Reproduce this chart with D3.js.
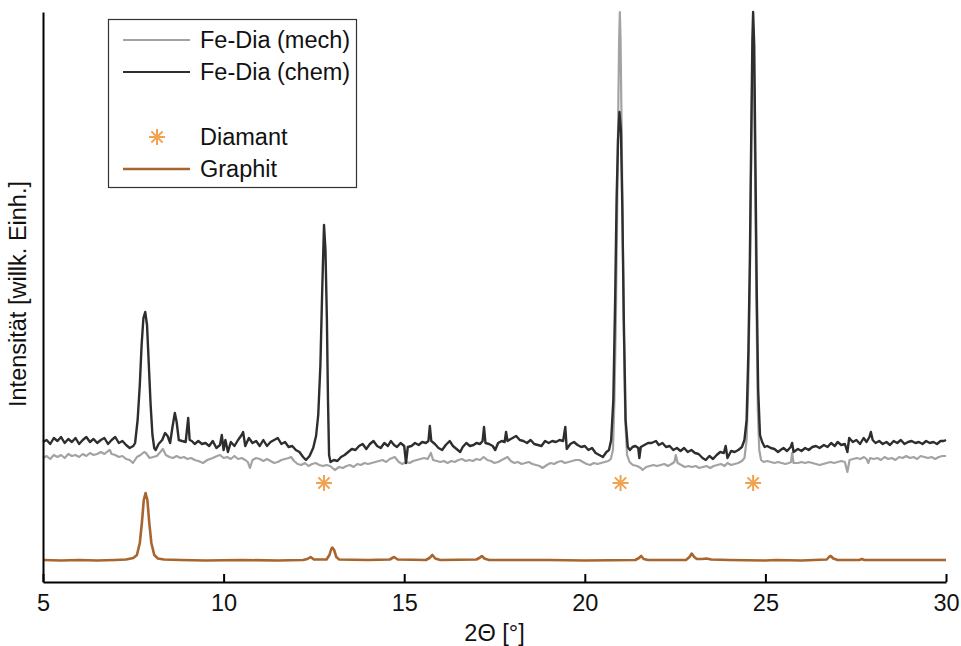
<!DOCTYPE html>
<html>
<head>
<meta charset="utf-8">
<script src="https://cdn.jsdelivr.net/npm/d3@7"></script>
<style>
  html, body { margin: 0; padding: 0; background: #fff; }
  svg { display: block; font-family: "Liberation Sans", Arial, sans-serif; }
</style>
</head>
<body>
<svg id="chart" width="961" height="646"></svg>
<script>
// XRD patterns: 2-theta (deg) vs. intensity (arb. units)
const mechData = [
  [5.0,124],[5.1,126],[5.2,123],[5.3,127],[5.4,125],[5.5,127],[5.6,124],[5.7,128],[5.8,126],[5.9,127],
  [6.0,125],[6.1,128],[6.2,126],[6.3,129],[6.4,127],[6.5,128],[6.6,130],[6.7,128],[6.8,131],[6.85,132],
  [6.9,128],[7.0,127],[7.1,125],[7.2,126],[7.3,123],[7.4,122],[7.49,119],[7.6,125],[7.7,127],[7.8,130],
  [7.85,129],[7.95,124],[8.05,125],[8.15,126],[8.25,130],[8.32,133],[8.4,127],[8.5,125],[8.6,124],[8.7,126],
  [8.8,124],[8.9,125],[9.0,123],[9.1,124],[9.2,122],[9.3,121],[9.43,119],[9.55,122],[9.7,124],[9.82,126],
  [9.9,127],[10.0,124],[10.1,125],[10.2,123],[10.3,126],[10.4,123],[10.5,124],[10.6,122],[10.67,120],[10.73,114],
  [10.8,122],[10.9,124],[11.0,123],[11.1,121],[11.2,123],[11.3,121],[11.4,119],[11.5,120],[11.6,122],[11.7,123],
  [11.8,124],[11.87,125],[11.95,121],[12.05,118],[12.15,117],[12.25,119],[12.35,116],[12.45,118],[12.55,119],[12.65,117],
  [12.75,116],[12.85,117],[12.95,116],[13.08,112],[13.2,115],[13.3,114],[13.4,116],[13.5,117],[13.6,115],[13.7,118],
  [13.8,117],[13.9,119],[14.0,118],[14.1,119],[14.2,120],[14.3,121],[14.4,122],[14.5,120],[14.6,123],[14.74,125],
  [14.85,120],[14.95,118],[15.05,120],[15.15,119],[15.25,121],[15.35,122],[15.45,123],[15.55,124],[15.65,123],[15.74,129],
  [15.8,122],[15.9,121],[16.0,120],[16.1,121],[16.2,119],[16.3,121],[16.4,120],[16.5,122],[16.6,123],[16.7,121],
  [16.8,122],[16.9,121],[17.0,123],[17.1,122],[17.2,125],[17.3,122],[17.4,121],[17.5,119],[17.6,120],[17.7,122],
  [17.86,125],[17.95,121],[18.05,119],[18.15,120],[18.25,118],[18.35,119],[18.45,120],[18.55,118],[18.65,117],[18.75,116],
  [18.83,114],[18.95,117],[19.05,119],[19.15,118],[19.25,120],[19.35,121],[19.45,119],[19.55,120],[19.65,121],[19.75,122],
  [19.85,122],[19.95,120],[20.05,118],[20.15,117],[20.25,119],[20.35,118],[20.45,119],[20.55,120],[20.65,121],[20.72,123],
  [20.78,132],[20.82,182],[20.86,262],[20.89,352],[20.92,452],[20.95,542],[20.97,570],[20.99,542],[21.02,452],[21.05,352],
  [21.08,252],[21.12,162],[21.17,127],[21.24,120],[21.33,117],[21.45,116],[21.55,114],[21.6,112],[21.7,115],[21.8,116],
  [21.9,117],[22.0,116],[22.1,117],[22.2,118],[22.3,116],[22.4,118],[22.48,120],[22.52,127],[22.57,119],[22.67,117],
  [22.77,115],[22.87,116],[22.97,115],[23.07,116],[23.17,114],[23.27,115],[23.37,116],[23.47,114],[23.57,116],[23.67,117],
  [23.77,118],[23.87,116],[23.95,119],[24.05,117],[24.15,118],[24.25,119],[24.35,121],[24.42,124],[24.48,142],[24.53,202],
  [24.57,302],[24.61,432],[24.64,522],[24.66,552],[24.68,522],[24.71,422],[24.75,282],[24.79,172],[24.83,132],[24.88,122],
  [24.95,120],[25.05,121],[25.15,120],[25.25,119],[25.35,120],[25.45,119],[25.55,118],[25.65,119],[25.71,120],[25.74,129],
  [25.78,119],[25.9,119],[26.0,120],[26.1,119],[26.2,120],[26.3,119],[26.4,118],[26.5,117],[26.6,118],[26.7,119],
  [26.8,120],[26.9,119],[27.0,120],[27.1,121],[27.2,120],[27.27,110],[27.33,122],[27.43,123],[27.53,124],[27.63,123],
  [27.73,125],[27.8,123],[27.85,119],[27.9,124],[28.0,123],[28.1,124],[28.2,122],[28.3,125],[28.4,123],[28.5,124],
  [28.6,122],[28.7,125],[28.8,124],[28.9,126],[29.0,124],[29.1,125],[29.2,123],[29.3,126],[29.4,125],[29.5,124],
  [29.6,125],[29.7,123],[29.8,125],[29.9,126],[30.0,126]
];

const chemData = [
  [5.0,140],[5.1,142],[5.2,138],[5.3,144],[5.4,141],[5.5,145],[5.6,139],[5.7,143],[5.8,140],[5.9,144],
  [6.0,138],[6.1,142],[6.2,145],[6.3,140],[6.4,143],[6.5,139],[6.6,142],[6.7,144],[6.8,138],[6.9,142],
  [7.0,145],[7.1,139],[7.2,141],[7.3,137],[7.4,134],[7.5,136],[7.55,139],[7.62,162],[7.68,197],[7.73,237],
  [7.78,264],[7.83,270],[7.88,257],[7.93,217],[7.98,177],[8.03,147],[8.08,134],[8.12,132],[8.2,138],[8.3,142],
  [8.38,149],[8.45,146],[8.52,139],[8.58,154],[8.65,169],[8.7,160],[8.76,142],[8.85,141],[8.95,140],[9.02,164],
  [9.06,142],[9.12,141],[9.2,138],[9.3,141],[9.4,138],[9.5,139],[9.6,136],[9.7,141],[9.8,134],[9.9,137],
  [9.95,147],[10.0,132],[10.05,142],[10.12,130],[10.2,140],[10.3,136],[10.4,142],[10.5,147],[10.54,150],[10.6,136],
  [10.7,144],[10.8,139],[10.9,141],[11.0,136],[11.1,142],[11.2,136],[11.3,140],[11.4,142],[11.5,144],[11.6,138],
  [11.7,140],[11.8,135],[11.9,136],[12.0,132],[12.1,130],[12.2,125],[12.28,122],[12.38,126],[12.48,134],[12.56,146],
  [12.62,167],[12.68,217],[12.73,292],[12.78,357],[12.82,332],[12.86,262],[12.89,182],[12.92,127],[12.96,120],[13.05,122],
  [13.15,121],[13.25,125],[13.35,127],[13.45,130],[13.55,133],[13.65,132],[13.75,136],[13.85,138],[13.95,133],[14.05,138],
  [14.15,141],[14.25,136],[14.35,134],[14.45,139],[14.55,136],[14.63,141],[14.72,137],[14.8,135],[14.9,139],[15.0,136],
  [15.05,119],[15.1,135],[15.2,136],[15.3,139],[15.4,137],[15.5,140],[15.6,139],[15.67,141],[15.71,156],[15.75,141],
  [15.85,138],[15.95,134],[16.05,132],[16.15,137],[16.26,141],[16.35,136],[16.45,133],[16.55,130],[16.62,135],[16.72,139],
  [16.82,136],[16.92,137],[17.0,139],[17.1,138],[17.17,141],[17.21,155],[17.25,139],[17.35,138],[17.45,136],[17.52,132],
  [17.6,139],[17.7,141],[17.78,140],[17.82,150],[17.86,141],[17.95,143],[18.05,145],[18.1,146],[18.2,142],[18.3,141],
  [18.4,139],[18.5,142],[18.6,138],[18.7,137],[18.8,136],[18.9,141],[19.0,139],[19.1,141],[19.2,140],[19.3,142],
  [19.4,141],[19.46,155],[19.5,133],[19.6,138],[19.7,140],[19.8,137],[19.9,135],[20.0,136],[20.1,132],[20.2,134],
  [20.3,129],[20.4,127],[20.5,125],[20.6,130],[20.67,132],[20.73,142],[20.79,182],[20.84,282],[20.88,382],[20.92,442],
  [20.96,470],[21.0,452],[21.04,372],[21.08,262],[21.13,162],[21.19,135],[21.25,132],[21.32,135],[21.4,136],[21.48,134],
  [21.51,124],[21.55,135],[21.65,137],[21.75,139],[21.85,139],[21.97,141],[22.05,137],[22.15,139],[22.25,135],[22.35,136],
  [22.45,132],[22.55,134],[22.65,131],[22.75,134],[22.85,130],[22.95,132],[23.05,129],[23.15,128],[23.26,124],[23.35,122],
  [23.45,126],[23.55,123],[23.65,127],[23.75,130],[23.85,129],[23.9,136],[23.95,124],[24.05,131],[24.15,130],[24.25,132],
  [24.35,135],[24.42,142],[24.48,162],[24.53,232],[24.57,322],[24.61,452],[24.64,542],[24.66,570],[24.69,537],[24.72,432],
  [24.76,292],[24.8,192],[24.85,147],[24.91,140],[24.98,135],[25.05,136],[25.15,134],[25.25,133],[25.35,130],[25.42,132],
  [25.5,134],[25.6,131],[25.7,135],[25.74,139],[25.78,130],[25.9,133],[26.0,131],[26.1,134],[26.2,132],[26.3,135],
  [26.4,136],[26.5,134],[26.62,137],[26.72,135],[26.82,139],[26.92,136],[27.0,140],[27.1,137],[27.2,138],[27.27,130],
  [27.32,144],[27.42,140],[27.52,142],[27.62,138],[27.72,144],[27.8,140],[27.88,145],[27.92,150],[27.97,142],[28.05,139],
  [28.15,141],[28.25,138],[28.35,140],[28.45,137],[28.55,141],[28.65,139],[28.75,142],[28.85,138],[28.95,140],[29.05,141],
  [29.15,139],[29.25,140],[29.35,138],[29.45,141],[29.55,139],[29.65,140],[29.75,138],[29.85,141],[29.94,141],[30.0,142]
];

const graphitData = [
  [5.0,22],[5.5,21.5],[6.0,22],[6.5,21.5],[7.0,22],[7.3,22.5],[7.5,24],[7.6,27],[7.68,39],[7.74,60],
  [7.79,82],[7.84,89],[7.89,82],[7.94,60],[8.0,39],[8.08,27],[8.18,23.5],[8.35,22.5],[8.8,22],[9.5,21.5],
  [10.5,22],[11.5,21.5],[12.2,22],[12.32,23],[12.41,25],[12.5,22.5],[12.85,22.5],[12.93,27],[12.98,33],[13.01,34.5],
  [13.06,32],[13.12,25],[13.2,22.5],[14.0,22],[14.6,22.5],[14.72,25],[14.82,22.5],[15.6,22],[15.7,24],[15.78,27],
  [15.86,23.5],[16.0,22],[17.0,22.5],[17.1,24.5],[17.15,26],[17.22,23.5],[17.35,22],[19.0,22],[20.0,21.5],[21.4,22],
  [21.5,24],[21.56,26],[21.63,23],[21.75,22],[22.8,22],[22.9,25],[22.96,28.5],[23.03,25],[23.1,23],[23.25,23],
  [23.37,23.5],[23.5,22.5],[24.0,22],[25.0,21.5],[25.3,22],[26.0,21.5],[26.7,22.5],[26.76,25],[26.81,26],[26.88,23.5],
  [27.0,22],[27.6,22],[27.67,23],[27.74,22],[30.0,22]
];

// Diamond reflections marked below the patterns
const diamondPeaks = [12.78, 20.99, 24.66];
const diamondMarkLevel = 99;

const xTicks = [5, 10, 15, 20, 25, 30];
const xDomain = [5, 30];
const yDomain = [0, 570];

const legendItems = [
  { label: "Fe-Dia (mech)", kind: "line", color: "#a3a3a3" },
  { label: "Fe-Dia (chem)", kind: "line", color: "#2e2e2e" },
  { label: "", kind: "none" },
  { label: "Diamant", kind: "star", color: "#f2a24e" },
  { label: "Graphit", kind: "line", color: "#a8652d" }
];

const FONT = 23.5;
const svg = d3.select("#chart");
const M = { left: 43, right: 946, top: 12, bottom: 582 };

const x = d3.scaleLinear().domain(xDomain).range([M.left, M.right]);
const y = d3.scaleLinear().domain(yDomain).range([M.bottom, M.top]);

const line = d3.line().x(d => x(d[0])).y(d => y(d[1]));

// eight-armed asterisk marker
const starSymbol = {
  draw(ctx, size) {
    const r = Math.sqrt(size) / 2;
    for (let k = 0; k < 4; k++) {
      const a = k * Math.PI / 4;
      ctx.moveTo(-r * Math.cos(a), -r * Math.sin(a));
      ctx.lineTo(r * Math.cos(a), r * Math.sin(a));
    }
  }
};
const star = d3.symbol().type(starSymbol).size(256);

// curves
svg.append("path").datum(mechData).attr("d", line)
  .attr("fill", "none").attr("stroke", legendItems[0].color).attr("stroke-width", 2.2).attr("stroke-linejoin", "round");
svg.append("path").datum(chemData).attr("d", line)
  .attr("fill", "none").attr("stroke", legendItems[1].color).attr("stroke-width", 2.4).attr("stroke-linejoin", "round");
svg.append("path").datum(graphitData).attr("d", line)
  .attr("fill", "none").attr("stroke", legendItems[4].color).attr("stroke-width", 2.6).attr("stroke-linejoin", "round");

svg.selectAll("path.dia").data(diamondPeaks).join("path").attr("class", "dia")
  .attr("d", star)
  .attr("transform", d => `translate(${x(d)},${y(diamondMarkLevel)})`)
  .attr("fill", "none").attr("stroke", legendItems[3].color).attr("stroke-width", 2);

// bottom axis with inward ticks
const xAxis = d3.axisBottom(x).tickValues(xTicks).tickSizeInner(-8).tickSizeOuter(0).tickPadding(12)
  .tickFormat(d3.format("d"));
const gx = svg.append("g").attr("transform", `translate(0,${M.bottom})`).call(xAxis);
gx.select(".domain").attr("stroke", "#000").attr("stroke-width", 2);
gx.selectAll(".tick line").attr("stroke", "#000").attr("stroke-width", 2);
gx.selectAll(".tick text").attr("font-size", FONT).attr("fill", "#111")
  .attr("font-family", "'Liberation Sans', Arial, sans-serif");

// left axis line (no ticks)
const yAxis = d3.axisLeft(y).tickValues([]).tickSizeOuter(0);
const gy = svg.append("g").attr("transform", `translate(${M.left},0)`).call(yAxis);
gy.select(".domain").attr("stroke", "#000").attr("stroke-width", 2);

// axis titles
svg.append("text").attr("x", (M.left + M.right) / 2).attr("y", 641)
  .attr("text-anchor", "middle").attr("font-size", FONT).attr("fill", "#111")
  .text("2\u0398 [\u00B0]");
svg.append("text")
  .attr("transform", `translate(26,${294}) rotate(-90)`)
  .attr("text-anchor", "middle").attr("font-size", FONT).attr("fill", "#111")
  .text("Intensit\u00E4t [willk. Einh.]");

// legend
const lg = svg.append("g");
lg.append("rect").attr("x", 108.5).attr("y", 19.5).attr("width", 248).attr("height", 168)
  .attr("fill", "#fff").attr("stroke", "#333").attr("stroke-width", 1.2);
const rowY = [40, 72, 104, 137, 169];
legendItems.forEach((it, i) => {
  const yy = rowY[i];
  if (it.kind === "line") {
    lg.append("line").attr("x1", 123).attr("x2", 190).attr("y1", yy).attr("y2", yy)
      .attr("stroke", it.color).attr("stroke-width", i === 4 ? 2.6 : 2.2);
  } else if (it.kind === "star") {
    lg.append("path").attr("d", star).attr("transform", `translate(157,${yy})`)
      .attr("fill", "none").attr("stroke", it.color).attr("stroke-width", 2);
  }
  if (it.label) {
    lg.append("text").attr("x", 200).attr("y", yy + 8).attr("font-size", FONT).attr("fill", "#111")
      .text(it.label);
  }
});
</script>
</body>
</html>
